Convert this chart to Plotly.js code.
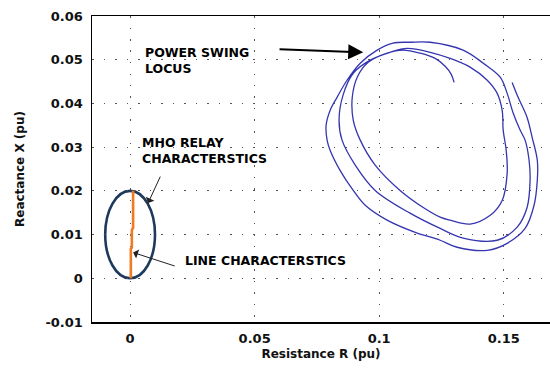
<!DOCTYPE html>
<html>
<head>
<meta charset="utf-8">
<script src="https://cdn.plot.ly/plotly-3.0.1.min.js"></script>
<style>html,body{margin:0;padding:0;background:#fff}#chart{width:550px;height:369px}</style>
</head>
<body>
<div id="chart"></div>
<script>
// Power swing locus (R, X in pu)
const locusR = [0.1534,0.1558,0.1594,0.1614,0.1635,0.1635,0.1622,0.1586,0.1514,0.1434,0.1313,0.1245,0.1145,0.1032,0.0944,0.0896,0.0843,0.0803,0.0791,0.0787,0.0803,0.0831,0.0871,0.0924,0.0992,0.1056,0.1124,0.1205,
  0.1337,0.1418,0.1486,0.1514,0.1538,0.1566,0.1586,0.1602,0.1606,0.1594,0.1554,0.1474,0.1337,0.1245,0.1124,0.0984,0.0904,0.0851,0.0839,0.0855,0.0896,0.0964,0.1044,0.1112,0.1205,
  0.1285,0.1365,0.1434,0.1474,0.1494,0.1498,0.1510,0.1514,0.1494,0.1446,0.1365,0.1285,0.1245,0.1177,0.1084,0.0984,0.0924,0.0896,0.0892,0.0912,0.0956,0.1032,0.1096,0.1165,0.1225,0.1265,0.1289,0.1301];
const locusX = [0.0448,0.0414,0.0368,0.0323,0.0270,0.0224,0.0167,0.0114,0.0080,0.0064,0.0071,0.0087,0.0105,0.0133,0.0167,0.0201,0.0247,0.0293,0.0316,0.0350,0.0384,0.0414,0.0453,0.0492,0.0522,0.0538,0.0540,0.0540,
  0.0522,0.0492,0.0460,0.0423,0.0378,0.0339,0.0316,0.0270,0.0224,0.0162,0.0117,0.0087,0.0092,0.0114,0.0149,0.0201,0.0259,0.0316,0.0362,0.0419,0.0469,0.0499,0.0517,0.0526,0.0517,
  0.0503,0.0483,0.0453,0.0423,0.0384,0.0339,0.0293,0.0240,0.0178,0.0144,0.0124,0.0133,0.0140,0.0162,0.0201,0.0259,0.0316,0.0362,0.0414,0.0460,0.0494,0.0515,0.0522,0.0515,0.0503,0.0485,0.0467,0.0448];

// Line characteristic
const lineR = [0.0003,0.0003,0.0007,0.0007,0.0012,0.0012];
const lineX = [0.0000,0.0068,0.0070,0.0110,0.0115,0.0200];

// Mho relay characteristic (circle)
const mhoCenterR = 0.0;
const mhoCenterX = 0.01;
const mhoRadius = 0.01;

// Ticks
const xTicks = [0, 0.05, 0.1, 0.15];
const xTickText = ['0', '0.05', '0.1', '0.15'];
const yTicks = [-0.01, 0, 0.01, 0.02, 0.03, 0.04, 0.05, 0.06];
const yTickText = ['-0.01', '0', '0.01', '0.02', '0.03', '0.04', '0.05', '0.06'];

const FONT = 'DejaVu Sans, Arial, sans-serif';

const traces = [
  {x: locusR, y: locusX, type: 'scatter', mode: 'lines',
   line: {color: '#3535b0', width: 1.3, shape: 'spline', smoothing: 1}, hoverinfo: 'skip'},
  {x: lineR, y: lineX, type: 'scatter', mode: 'lines',
   line: {color: '#ee7a22', width: 2.6}, hoverinfo: 'skip'}
];

const gridCommon = {
  showgrid: true, gridcolor: '#555', gridwidth: 1, griddash: '1.5px,10px',
  zeroline: false, showline: true, linecolor: '#000', linewidth: 1.5,
  ticks: '', tickfont: {family: FONT, size: 13, color: '#111', weight: 'bold'}
};

const layout = {
  width: 550, height: 369,
  margin: {l: 92, r: 0, t: 16, b: 47},
  paper_bgcolor: '#fff', plot_bgcolor: '#fff',
  showlegend: false,
  xaxis: Object.assign({}, gridCommon, {
    range: [-0.0153, 0.1686], tickvals: xTicks, ticktext: xTickText,
    mirror: true, ticklabelstandoff: 4,
    title: {text: 'Resistance R (pu)', font: {family: FONT, size: 12, color: '#111', weight: 'bold'}, standoff: 4}
  }),
  yaxis: Object.assign({}, gridCommon, {
    range: [-0.01, 0.06], tickvals: yTicks, ticktext: yTickText,
    ticklabelstandoff: 5,
    title: {text: 'Reactance X (pu)', font: {family: FONT, size: 12, color: '#111', weight: 'bold'}, standoff: 18}
  }),
  shapes: [
    {type: 'circle', xref: 'x', yref: 'y',
     x0: mhoCenterR - mhoRadius, x1: mhoCenterR + mhoRadius,
     y0: mhoCenterX - mhoRadius, y1: mhoCenterX + mhoRadius,
     line: {color: '#1d3a5c', width: 2.6}, layer: 'below'}
  ],
  annotations: [
    {x: 0.0052, y: 0.0498, xref: 'x', yref: 'y', xanchor: 'left', yanchor: 'middle', align: 'left',
     text: 'POWER SWING<br>LOCUS', showarrow: false,
     font: {family: FONT, size: 12.5, color: '#000', weight: 'bold'}},
    {x: 0.0040, y: 0.0292, xref: 'x', yref: 'y', xanchor: 'left', yanchor: 'middle', align: 'left',
     text: 'MHO RELAY<br>CHARACTERSTICS', showarrow: false,
     font: {family: FONT, size: 12.5, color: '#000', weight: 'bold'}},
    {x: 0.0213, y: 0.0041, xref: 'x', yref: 'y', xanchor: 'left', yanchor: 'middle', align: 'left',
     text: 'LINE CHARACTERSTICS', showarrow: false,
     font: {family: FONT, size: 12.5, color: '#000', weight: 'bold'}},
    {x: 0.0936, y: 0.0517, ax: 0.0594, ay: 0.0524, xref: 'x', yref: 'y', axref: 'x', ayref: 'y',
     text: '', showarrow: true, arrowhead: 2, arrowsize: 1.5, arrowwidth: 2, arrowcolor: '#000'},
    {x: 0.0072, y: 0.0172, ax: 0.0124, ay: 0.0236, xref: 'x', yref: 'y', axref: 'x', ayref: 'y',
     text: '', showarrow: true, arrowhead: 1, arrowsize: 1.6, arrowwidth: 1, arrowcolor: '#222'},
    {x: 0.0012, y: 0.0059, ax: 0.0185, ay: 0.0027, xref: 'x', yref: 'y', axref: 'x', ayref: 'y',
     text: '', showarrow: true, arrowhead: 1, arrowsize: 1.6, arrowwidth: 1, arrowcolor: '#222'}
  ]
};

Plotly.newPlot('chart', traces, layout, {staticPlot: true, displayModeBar: false});
</script>
</body>
</html>
